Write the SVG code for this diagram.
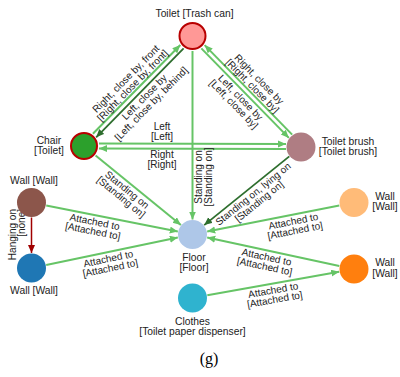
<svg xmlns="http://www.w3.org/2000/svg" width="400" height="377" viewBox="0 0 400 377">
<defs>
<marker id="aL" markerUnits="userSpaceOnUse" markerWidth="9" markerHeight="8" refX="8" refY="3.5" orient="auto"><path d="M0,0 L8,3.5 L0,7 z" fill="#66c466"/></marker>
<marker id="aD" markerUnits="userSpaceOnUse" markerWidth="9" markerHeight="8" refX="8" refY="3.5" orient="auto"><path d="M0,0 L8,3.5 L0,7 z" fill="#2e6e2e"/></marker>
<marker id="aR" markerUnits="userSpaceOnUse" markerWidth="9" markerHeight="8" refX="8" refY="3.5" orient="auto"><path d="M0,0 L8,3.5 L0,7 z" fill="#a00000"/></marker>
</defs>
<style>
text{font-family:"Liberation Sans",Arial,sans-serif;fill:#222}
.n{font-size:10.3px;text-anchor:middle}
.e{font-size:10px;text-anchor:middle}
.l{stroke:#66c466;stroke-width:2;fill:none;marker-end:url(#aL)}
.d{stroke:#2e6e2e;stroke-width:1.8;fill:none;marker-end:url(#aD)}
.r{stroke:#a00000;stroke-width:1.5;fill:none;marker-end:url(#aR)}
.hl{stroke:#b80000;stroke-width:2}
</style>
<rect width="400" height="377" fill="#fff"/>
<g id="connectors">
<line class="l" x1="92.89" y1="133.70" x2="180.33" y2="45.06"/>
<line class="d" x1="183.61" y1="48.30" x2="96.17" y2="137.26"/>
<line class="l" x1="292.16" y1="134.66" x2="204.63" y2="45.12"/>
<line class="l" x1="201.34" y1="48.34" x2="288.87" y2="137.88"/>
<line class="l" x1="99" y1="143.5" x2="286" y2="144"/>
<line class="l" x1="286" y1="149" x2="99" y2="148.5"/>
<line class="l" x1="192.5" y1="51" x2="192.5" y2="219.5"/>
<line class="l" x1="95.6" y1="155.5" x2="180.9" y2="225"/>
<line class="d" x1="289.3" y1="156.4" x2="204.2" y2="225.1"/>
<line class="l" x1="46.2" y1="205.4" x2="177.8" y2="231.6"/>
<line class="l" x1="46.2" y1="264.9" x2="177.8" y2="237.6"/>
<line class="l" x1="339.3" y1="205.4" x2="207.2" y2="231.6"/>
<line class="l" x1="339.3" y1="265.9" x2="207.2" y2="237.6"/>
<line class="l" x1="207.3" y1="295.3" x2="339.2" y2="271.7"/>
<line class="r" x1="31.5" y1="217.5" x2="31.5" y2="253"/>
<g transform="translate(138.25,91) rotate(-45.39)">
<text class="e" x="0" y="-14">Right, close by, front</text>
<text class="e" x="0" y="-4.5">[Right, close by, front]</text>
<text class="e" x="0" y="12">Left, close by</text>
<text class="e" x="0" y="21.5">[Left, close by, behind]</text>
</g>
<g transform="translate(246.75,91.5) rotate(45.65)">
<text class="e" x="0" y="-14">Right, close by</text>
<text class="e" x="0" y="-4.5">[Right, close by]</text>
<text class="e" x="0" y="12">Left, close by</text>
<text class="e" x="0" y="21.5">[Left, close by]</text>
</g>
<text class="e" x="162" y="129.8">Left</text>
<text class="e" x="162" y="140">[Left]</text>
<text class="e" x="162" y="157.5">Right</text>
<text class="e" x="162" y="167.7">[Right]</text>
<g transform="translate(192.5,177) rotate(-90)">
<text class="e" x="0" y="9.5">Standing on</text>
<text class="e" x="0" y="19">[Standing on]</text>
</g>
<g transform="translate(131.3,184.6) rotate(39.2)">
<text class="e" x="0" y="10">Standing on</text>
<text class="e" x="0" y="19.5">[Standing on]</text>
</g>
<g transform="translate(249,188.9) rotate(-38.9)">
<text class="e" x="0" y="10">Standing on, lying on</text>
<text class="e" x="0" y="19.5">[Standing on]</text>
</g>
<g transform="translate(96,215.3) rotate(11.24)">
<text class="e" x="0" y="10">Attached to</text>
<text class="e" x="0" y="19.5">[Attached to]</text>
</g>
<g transform="translate(107,252.3) rotate(-11.75)">
<text class="e" x="0" y="10">Attached to</text>
<text class="e" x="0" y="19.5">[Attached to]</text>
</g>
<g transform="translate(292,214.8) rotate(-11.2)">
<text class="e" x="0" y="10">Attached to</text>
<text class="e" x="0" y="19.5">[Attached to]</text>
</g>
<g transform="translate(268,250.6) rotate(12.06)">
<text class="e" x="0" y="10">Attached to</text>
<text class="e" x="0" y="19.5">[Attached to]</text>
</g>
<g transform="translate(272,283.7) rotate(-10.18)">
<text class="e" x="0" y="10">Attached to</text>
<text class="e" x="0" y="19.5">[Attached to]</text>
</g>
<g transform="translate(31.5,209) rotate(-90)">
<text class="e" x="0" y="-15.5" style="text-anchor:end">Hanging on</text>
<text class="e" x="0" y="-6.5" style="text-anchor:end">[none]</text>
</g>
</g>
<g id="toilet"><circle cx="192.5" cy="36" r="13" fill="#ff9896" class="hl"/><text class="n" x="194.5" y="16.5">Toilet [Trash can]</text></g>
<g id="chair"><circle cx="84" cy="146" r="13" fill="#2ca02c" class="hl"/><text class="n" x="49" y="143.8">Chair</text><text class="n" x="49" y="154.2">[Toilet]</text></g>
<g id="toilet-brush"><circle cx="301" cy="147" r="14.5" fill="#af7d83"/><text class="n" x="348" y="144.6">Toilet brush</text><text class="n" x="348" y="155">[Toilet brush]</text></g>
<g id="floor"><circle cx="192.5" cy="234.5" r="14.5" fill="#aec7e8"/><text class="n" x="194" y="260.6">Floor</text><text class="n" x="194" y="271">[Floor]</text></g>
<g id="wall-brown"><circle cx="31.5" cy="202.5" r="14.5" fill="#8c564b"/><text class="n" x="34" y="184">Wall [Wall]</text></g>
<g id="wall-blue"><circle cx="31.5" cy="268" r="14.5" fill="#1f77b4"/><text class="n" x="34" y="294">Wall [Wall]</text></g>
<g id="wall-light-orange"><circle cx="354" cy="202.5" r="14.5" fill="#ffbb78"/><text class="n" x="385" y="199.6">Wall</text><text class="n" x="385" y="210">[Wall]</text></g>
<g id="wall-orange"><circle cx="354" cy="269" r="14.5" fill="#ff7f0e"/><text class="n" x="385" y="266.2">Wall</text><text class="n" x="385" y="276.6">[Wall]</text></g>
<g id="clothes"><circle cx="192.5" cy="298" r="14.5" fill="#2fb3cf"/><text class="n" x="192.5" y="324.6">Clothes</text><text class="n" x="192.5" y="335">[Toilet paper dispenser]</text></g>
<text x="209" y="364" style="font-family:'Liberation Serif','Times New Roman',serif;font-size:16px;text-anchor:middle;fill:#000">(g)</text>
</svg>
